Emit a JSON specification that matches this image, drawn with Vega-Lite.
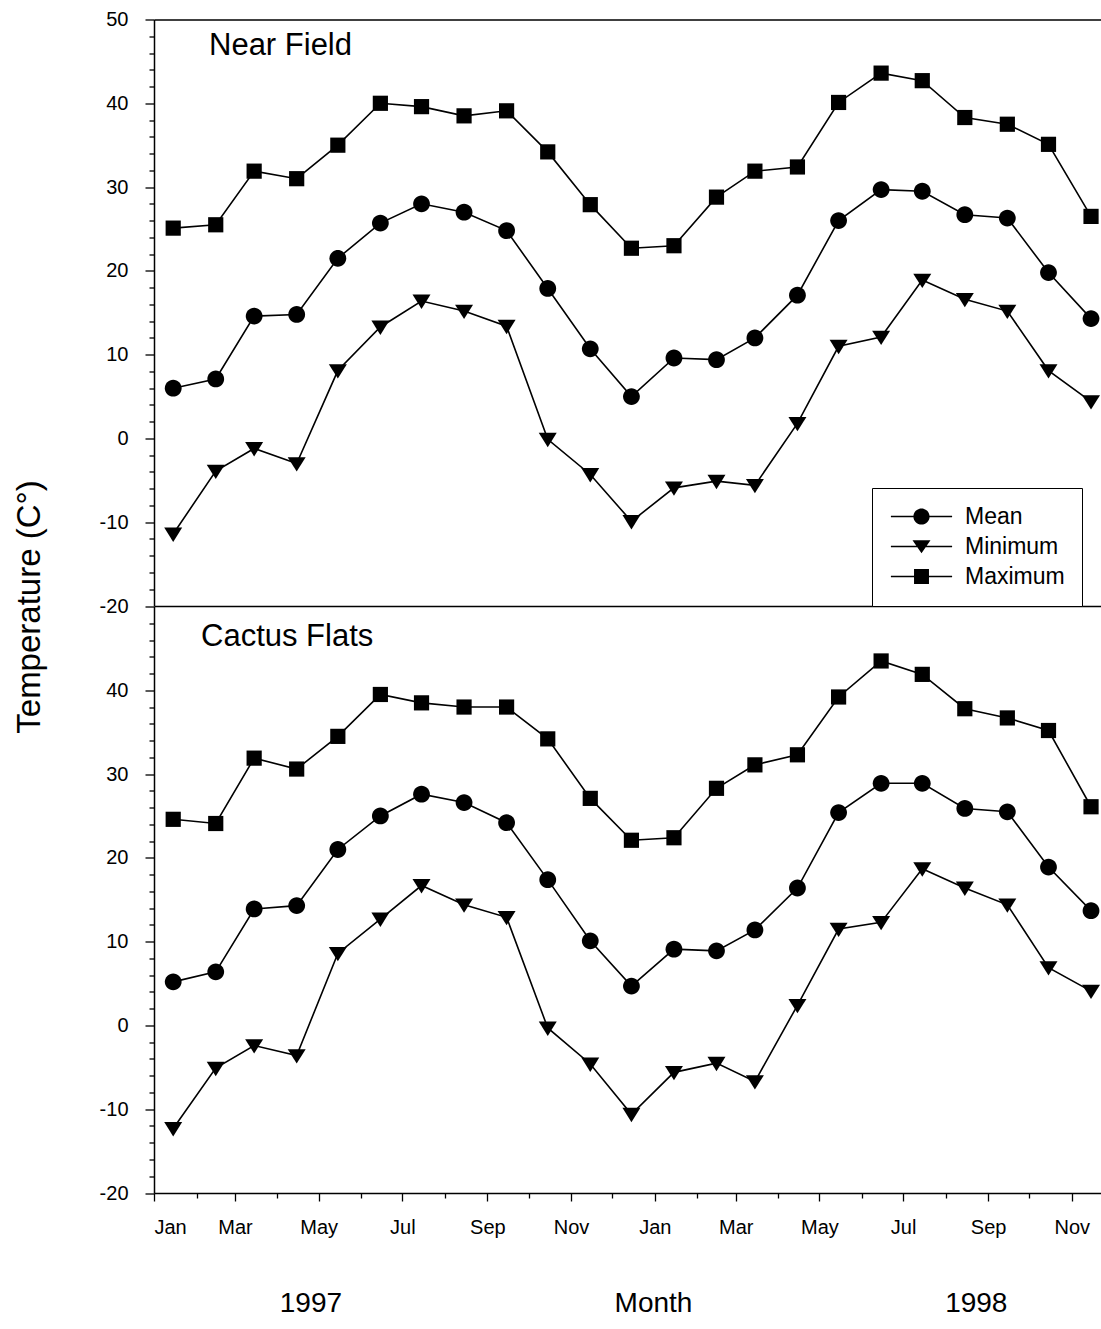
{
  "$schema": "https://vega.github.io/schema/vega-lite/v6.json",
  "background": "white",
  "padding": {"left": 13, "top": 9.5, "right": 0, "bottom": 0},
  "bounds": "flush",
  "spacing": 0,
  "config": {
    "view": {"stroke": null},
    "font": "Liberation Sans",
    "axis": {
      "grid": false,
      "domainColor": "black",
      "domainWidth": 1.5,
      "tickColor": "black",
      "tickWidth": 1.3,
      "labelColor": "black",
      "labelFont": "Liberation Sans",
      "labelFontSize": 20,
      "titleColor": "black",
      "titleFont": "Liberation Sans",
      "titleFontWeight": "normal"
    }
  },
  "resolve": {
    "scale": {"color": "independent", "shape": "independent"},
    "legend": {"color": "independent", "shape": "independent"}
  },
  "datasets": {
    "temps": [
      {"site": "Near Field", "series": "Maximum", "date": "1997-01-15", "temp": 25.1},
      {"site": "Near Field", "series": "Maximum", "date": "1997-02-15", "temp": 25.5},
      {"site": "Near Field", "series": "Maximum", "date": "1997-03-15", "temp": 31.9},
      {"site": "Near Field", "series": "Maximum", "date": "1997-04-15", "temp": 31.0},
      {"site": "Near Field", "series": "Maximum", "date": "1997-05-15", "temp": 35.0},
      {"site": "Near Field", "series": "Maximum", "date": "1997-06-15", "temp": 40.0},
      {"site": "Near Field", "series": "Maximum", "date": "1997-07-15", "temp": 39.6},
      {"site": "Near Field", "series": "Maximum", "date": "1997-08-15", "temp": 38.5},
      {"site": "Near Field", "series": "Maximum", "date": "1997-09-15", "temp": 39.1},
      {"site": "Near Field", "series": "Maximum", "date": "1997-10-15", "temp": 34.2},
      {"site": "Near Field", "series": "Maximum", "date": "1997-11-15", "temp": 27.9},
      {"site": "Near Field", "series": "Maximum", "date": "1997-12-15", "temp": 22.7},
      {"site": "Near Field", "series": "Maximum", "date": "1998-01-15", "temp": 23.0},
      {"site": "Near Field", "series": "Maximum", "date": "1998-02-15", "temp": 28.8},
      {"site": "Near Field", "series": "Maximum", "date": "1998-03-15", "temp": 31.9},
      {"site": "Near Field", "series": "Maximum", "date": "1998-04-15", "temp": 32.4},
      {"site": "Near Field", "series": "Maximum", "date": "1998-05-15", "temp": 40.1},
      {"site": "Near Field", "series": "Maximum", "date": "1998-06-15", "temp": 43.6},
      {"site": "Near Field", "series": "Maximum", "date": "1998-07-15", "temp": 42.7},
      {"site": "Near Field", "series": "Maximum", "date": "1998-08-15", "temp": 38.3},
      {"site": "Near Field", "series": "Maximum", "date": "1998-09-15", "temp": 37.5},
      {"site": "Near Field", "series": "Maximum", "date": "1998-10-15", "temp": 35.1},
      {"site": "Near Field", "series": "Maximum", "date": "1998-11-15", "temp": 26.5},
      {"site": "Near Field", "series": "Mean", "date": "1997-01-15", "temp": 6.0},
      {"site": "Near Field", "series": "Mean", "date": "1997-02-15", "temp": 7.1},
      {"site": "Near Field", "series": "Mean", "date": "1997-03-15", "temp": 14.6},
      {"site": "Near Field", "series": "Mean", "date": "1997-04-15", "temp": 14.8},
      {"site": "Near Field", "series": "Mean", "date": "1997-05-15", "temp": 21.5},
      {"site": "Near Field", "series": "Mean", "date": "1997-06-15", "temp": 25.7},
      {"site": "Near Field", "series": "Mean", "date": "1997-07-15", "temp": 28.0},
      {"site": "Near Field", "series": "Mean", "date": "1997-08-15", "temp": 27.0},
      {"site": "Near Field", "series": "Mean", "date": "1997-09-15", "temp": 24.8},
      {"site": "Near Field", "series": "Mean", "date": "1997-10-15", "temp": 17.9},
      {"site": "Near Field", "series": "Mean", "date": "1997-11-15", "temp": 10.7},
      {"site": "Near Field", "series": "Mean", "date": "1997-12-15", "temp": 5.0},
      {"site": "Near Field", "series": "Mean", "date": "1998-01-15", "temp": 9.6},
      {"site": "Near Field", "series": "Mean", "date": "1998-02-15", "temp": 9.4},
      {"site": "Near Field", "series": "Mean", "date": "1998-03-15", "temp": 12.0},
      {"site": "Near Field", "series": "Mean", "date": "1998-04-15", "temp": 17.1},
      {"site": "Near Field", "series": "Mean", "date": "1998-05-15", "temp": 26.0},
      {"site": "Near Field", "series": "Mean", "date": "1998-06-15", "temp": 29.7},
      {"site": "Near Field", "series": "Mean", "date": "1998-07-15", "temp": 29.5},
      {"site": "Near Field", "series": "Mean", "date": "1998-08-15", "temp": 26.7},
      {"site": "Near Field", "series": "Mean", "date": "1998-09-15", "temp": 26.3},
      {"site": "Near Field", "series": "Mean", "date": "1998-10-15", "temp": 19.8},
      {"site": "Near Field", "series": "Mean", "date": "1998-11-15", "temp": 14.3},
      {"site": "Near Field", "series": "Minimum", "date": "1997-01-15", "temp": -11.4},
      {"site": "Near Field", "series": "Minimum", "date": "1997-02-15", "temp": -3.9},
      {"site": "Near Field", "series": "Minimum", "date": "1997-03-15", "temp": -1.2},
      {"site": "Near Field", "series": "Minimum", "date": "1997-04-15", "temp": -3.0},
      {"site": "Near Field", "series": "Minimum", "date": "1997-05-15", "temp": 8.1},
      {"site": "Near Field", "series": "Minimum", "date": "1997-06-15", "temp": 13.3},
      {"site": "Near Field", "series": "Minimum", "date": "1997-07-15", "temp": 16.4},
      {"site": "Near Field", "series": "Minimum", "date": "1997-08-15", "temp": 15.2},
      {"site": "Near Field", "series": "Minimum", "date": "1997-09-15", "temp": 13.4},
      {"site": "Near Field", "series": "Minimum", "date": "1997-10-15", "temp": -0.1},
      {"site": "Near Field", "series": "Minimum", "date": "1997-11-15", "temp": -4.3},
      {"site": "Near Field", "series": "Minimum", "date": "1997-12-15", "temp": -9.9},
      {"site": "Near Field", "series": "Minimum", "date": "1998-01-15", "temp": -5.9},
      {"site": "Near Field", "series": "Minimum", "date": "1998-02-15", "temp": -5.1},
      {"site": "Near Field", "series": "Minimum", "date": "1998-03-15", "temp": -5.6},
      {"site": "Near Field", "series": "Minimum", "date": "1998-04-15", "temp": 1.8},
      {"site": "Near Field", "series": "Minimum", "date": "1998-05-15", "temp": 11.0},
      {"site": "Near Field", "series": "Minimum", "date": "1998-06-15", "temp": 12.1},
      {"site": "Near Field", "series": "Minimum", "date": "1998-07-15", "temp": 18.9},
      {"site": "Near Field", "series": "Minimum", "date": "1998-08-15", "temp": 16.6},
      {"site": "Near Field", "series": "Minimum", "date": "1998-09-15", "temp": 15.2},
      {"site": "Near Field", "series": "Minimum", "date": "1998-10-15", "temp": 8.1},
      {"site": "Near Field", "series": "Minimum", "date": "1998-11-15", "temp": 4.4},
      {"site": "Cactus Flats", "series": "Maximum", "date": "1997-01-15", "temp": 24.6},
      {"site": "Cactus Flats", "series": "Maximum", "date": "1997-02-15", "temp": 24.1},
      {"site": "Cactus Flats", "series": "Maximum", "date": "1997-03-15", "temp": 31.9},
      {"site": "Cactus Flats", "series": "Maximum", "date": "1997-04-15", "temp": 30.6},
      {"site": "Cactus Flats", "series": "Maximum", "date": "1997-05-15", "temp": 34.5},
      {"site": "Cactus Flats", "series": "Maximum", "date": "1997-06-15", "temp": 39.5},
      {"site": "Cactus Flats", "series": "Maximum", "date": "1997-07-15", "temp": 38.5},
      {"site": "Cactus Flats", "series": "Maximum", "date": "1997-08-15", "temp": 38.0},
      {"site": "Cactus Flats", "series": "Maximum", "date": "1997-09-15", "temp": 38.0},
      {"site": "Cactus Flats", "series": "Maximum", "date": "1997-10-15", "temp": 34.2},
      {"site": "Cactus Flats", "series": "Maximum", "date": "1997-11-15", "temp": 27.1},
      {"site": "Cactus Flats", "series": "Maximum", "date": "1997-12-15", "temp": 22.1},
      {"site": "Cactus Flats", "series": "Maximum", "date": "1998-01-15", "temp": 22.4},
      {"site": "Cactus Flats", "series": "Maximum", "date": "1998-02-15", "temp": 28.3},
      {"site": "Cactus Flats", "series": "Maximum", "date": "1998-03-15", "temp": 31.1},
      {"site": "Cactus Flats", "series": "Maximum", "date": "1998-04-15", "temp": 32.3},
      {"site": "Cactus Flats", "series": "Maximum", "date": "1998-05-15", "temp": 39.2},
      {"site": "Cactus Flats", "series": "Maximum", "date": "1998-06-15", "temp": 43.5},
      {"site": "Cactus Flats", "series": "Maximum", "date": "1998-07-15", "temp": 41.9},
      {"site": "Cactus Flats", "series": "Maximum", "date": "1998-08-15", "temp": 37.8},
      {"site": "Cactus Flats", "series": "Maximum", "date": "1998-09-15", "temp": 36.7},
      {"site": "Cactus Flats", "series": "Maximum", "date": "1998-10-15", "temp": 35.2},
      {"site": "Cactus Flats", "series": "Maximum", "date": "1998-11-15", "temp": 26.1},
      {"site": "Cactus Flats", "series": "Mean", "date": "1997-01-15", "temp": 5.2},
      {"site": "Cactus Flats", "series": "Mean", "date": "1997-02-15", "temp": 6.4},
      {"site": "Cactus Flats", "series": "Mean", "date": "1997-03-15", "temp": 13.9},
      {"site": "Cactus Flats", "series": "Mean", "date": "1997-04-15", "temp": 14.3},
      {"site": "Cactus Flats", "series": "Mean", "date": "1997-05-15", "temp": 21.0},
      {"site": "Cactus Flats", "series": "Mean", "date": "1997-06-15", "temp": 25.0},
      {"site": "Cactus Flats", "series": "Mean", "date": "1997-07-15", "temp": 27.6},
      {"site": "Cactus Flats", "series": "Mean", "date": "1997-08-15", "temp": 26.6},
      {"site": "Cactus Flats", "series": "Mean", "date": "1997-09-15", "temp": 24.2},
      {"site": "Cactus Flats", "series": "Mean", "date": "1997-10-15", "temp": 17.4},
      {"site": "Cactus Flats", "series": "Mean", "date": "1997-11-15", "temp": 10.1},
      {"site": "Cactus Flats", "series": "Mean", "date": "1997-12-15", "temp": 4.7},
      {"site": "Cactus Flats", "series": "Mean", "date": "1998-01-15", "temp": 9.1},
      {"site": "Cactus Flats", "series": "Mean", "date": "1998-02-15", "temp": 8.9},
      {"site": "Cactus Flats", "series": "Mean", "date": "1998-03-15", "temp": 11.4},
      {"site": "Cactus Flats", "series": "Mean", "date": "1998-04-15", "temp": 16.4},
      {"site": "Cactus Flats", "series": "Mean", "date": "1998-05-15", "temp": 25.4},
      {"site": "Cactus Flats", "series": "Mean", "date": "1998-06-15", "temp": 28.9},
      {"site": "Cactus Flats", "series": "Mean", "date": "1998-07-15", "temp": 28.9},
      {"site": "Cactus Flats", "series": "Mean", "date": "1998-08-15", "temp": 25.9},
      {"site": "Cactus Flats", "series": "Mean", "date": "1998-09-15", "temp": 25.5},
      {"site": "Cactus Flats", "series": "Mean", "date": "1998-10-15", "temp": 18.9},
      {"site": "Cactus Flats", "series": "Mean", "date": "1998-11-15", "temp": 13.7},
      {"site": "Cactus Flats", "series": "Minimum", "date": "1997-01-15", "temp": -12.3},
      {"site": "Cactus Flats", "series": "Minimum", "date": "1997-02-15", "temp": -5.1},
      {"site": "Cactus Flats", "series": "Minimum", "date": "1997-03-15", "temp": -2.4},
      {"site": "Cactus Flats", "series": "Minimum", "date": "1997-04-15", "temp": -3.6},
      {"site": "Cactus Flats", "series": "Minimum", "date": "1997-05-15", "temp": 8.6},
      {"site": "Cactus Flats", "series": "Minimum", "date": "1997-06-15", "temp": 12.7},
      {"site": "Cactus Flats", "series": "Minimum", "date": "1997-07-15", "temp": 16.7},
      {"site": "Cactus Flats", "series": "Minimum", "date": "1997-08-15", "temp": 14.4},
      {"site": "Cactus Flats", "series": "Minimum", "date": "1997-09-15", "temp": 12.9},
      {"site": "Cactus Flats", "series": "Minimum", "date": "1997-10-15", "temp": -0.3},
      {"site": "Cactus Flats", "series": "Minimum", "date": "1997-11-15", "temp": -4.6},
      {"site": "Cactus Flats", "series": "Minimum", "date": "1997-12-15", "temp": -10.6},
      {"site": "Cactus Flats", "series": "Minimum", "date": "1998-01-15", "temp": -5.6},
      {"site": "Cactus Flats", "series": "Minimum", "date": "1998-02-15", "temp": -4.5},
      {"site": "Cactus Flats", "series": "Minimum", "date": "1998-03-15", "temp": -6.7},
      {"site": "Cactus Flats", "series": "Minimum", "date": "1998-04-15", "temp": 2.4},
      {"site": "Cactus Flats", "series": "Minimum", "date": "1998-05-15", "temp": 11.5},
      {"site": "Cactus Flats", "series": "Minimum", "date": "1998-06-15", "temp": 12.3},
      {"site": "Cactus Flats", "series": "Minimum", "date": "1998-07-15", "temp": 18.7},
      {"site": "Cactus Flats", "series": "Minimum", "date": "1998-08-15", "temp": 16.4},
      {"site": "Cactus Flats", "series": "Minimum", "date": "1998-09-15", "temp": 14.4},
      {"site": "Cactus Flats", "series": "Minimum", "date": "1998-10-15", "temp": 6.9},
      {"site": "Cactus Flats", "series": "Minimum", "date": "1998-11-15", "temp": 4.1}
    ]
  },
  "vconcat": [
    {
      "width": 948,
      "height": 586.5,
      "title": {"text": "Near Field", "orient": "top", "anchor": "start", "frame": "group", "offset": -35.5, "dy": 40.5, "baseline": "alphabetic", "dx": 55, "fontSize": 31, "fontWeight": "normal", "font": "Liberation Sans", "color": "black"},
      "data": {"name": "temps"},
      "transform": [{"filter": "datum.site === 'Near Field'"}],
      "layer": [
        {
          "mark": {"type": "line", "color": "black", "strokeWidth": 1.6},
          "encoding": {
            "x": {"field": "date", "type": "temporal",
              "scale": {"type": "utc", "domain": [{"year": 1997, "month": 1, "date": 1, "utc": true}, {"year": 1998, "month": 11, "date": 23, "utc": true}]},
              "axis": {"orient": "bottom", "labels": false, "ticks": false, "title": null, "domain": true}},
            "y": {"field": "temp", "type": "quantitative",
              "scale": {"domain": [-20, 50], "nice": false, "zero": false},
              "axis": {"orient": "left", "values": [-20, -10, 0, 10, 20, 30, 40, 50], "tickSize": 9, "labelPadding": 17,
                "labelExpr": "datum.value < 0 ? '-' + abs(datum.value) : '' + datum.value",
                "title": "Temperature (C°)", "titleX": -125, "titleY": 587, "titleAngle": -90, "titleAlign": "center", "titleBaseline": "middle", "titleFontSize": 33}},
            "detail": {"field": "series"}
          }
        },
        {
          "mark": {"type": "point", "filled": true, "opacity": 1, "strokeWidth": 0, "size": 256},
          "encoding": {
            "x": {"field": "date", "type": "temporal",
              "axis": {"orient": "top", "labels": false, "ticks": false, "title": null, "domain": true}},
            "y": {"field": "temp", "type": "quantitative",
              "axis": {"orient": "left", "values": [-18, -16, -14, -12, -8, -6, -4, -2, 2, 4, 6, 8, 12, 14, 16, 18, 22, 24, 26, 28, 32, 34, 36, 38, 42, 44, 46, 48], "tickSize": 5, "labels": false, "domain": false, "title": null}},
            "color": {"field": "series", "type": "nominal",
              "scale": {"domain": ["Mean", "Minimum", "Maximum"], "range": ["black", "black", "black"]},
              "legend": {
                "orient": "none", "legendX": 718, "legendY": 468.5, "title": null,
                "padding": 17, "strokeColor": "black", "fillColor": "white",
                "labelFontSize": 23, "labelFont": "Liberation Sans", "labelColor": "black", "labelBaseline": "middle",
                "symbolSize": 324, "symbolOffset": 21, "labelOffset": 32, "rowPadding": 6,
                "symbolStrokeWidth": 0,
                "symbolType": {"expr": "datum.value === 'Mean' ? 'M-3.4,-0.09H3.4V0.09H-3.4Z M0.9,0A0.9,0.9,0,1,1,-0.9,0A0.9,0.9,0,1,1,0.9,0Z' : datum.value === 'Minimum' ? 'M-3.4,-0.09H3.4V0.09H-3.4Z M-1,-0.7H1L0,0.75Z' : 'M-3.4,-0.09H3.4V0.09H-3.4Z M-0.83,-0.83H0.83V0.83H-0.83Z'"}
              }},
            "shape": {"field": "series", "type": "nominal",
              "scale": {"domain": ["Maximum", "Mean", "Minimum"], "range": ["M-0.95,-0.95H0.95V0.95H-0.95Z", "M1.05,0A1.05,1.05,0,1,1,-1.05,0A1.05,1.05,0,1,1,1.05,0Z", "M-1.125,-0.8H1.125L0,1Z"]},
              "legend": null}
          }
        }
      ],
      "resolve": {"axis": {"x": "independent", "y": "independent"}}
    },
    {
      "width": 948,
      "height": 586.5,
      "title": {"text": "Cactus Flats", "orient": "top", "anchor": "start", "frame": "group", "offset": -39.7, "dy": 30.7, "baseline": "alphabetic", "dx": 47, "fontSize": 31, "fontWeight": "normal", "font": "Liberation Sans", "color": "black"},
      "data": {"name": "temps"},
      "transform": [{"filter": "datum.site === 'Cactus Flats'"}],
      "layer": [
        {
          "mark": {"type": "line", "color": "black", "strokeWidth": 1.6},
          "encoding": {
            "x": {"field": "date", "type": "temporal",
              "scale": {"type": "utc", "domain": [{"year": 1997, "month": 1, "date": 1, "utc": true}, {"year": 1998, "month": 11, "date": 23, "utc": true}]},
              "axis": {"orient": "bottom", "title": null, "domain": true, "tickSize": 8, "labelPadding": 16,
                "values": [
                  {"year": 1997, "month": 1, "date": 1, "utc": true}, {"year": 1997, "month": 3, "date": 1, "utc": true},
                  {"year": 1997, "month": 5, "date": 1, "utc": true}, {"year": 1997, "month": 7, "date": 1, "utc": true},
                  {"year": 1997, "month": 9, "date": 1, "utc": true}, {"year": 1997, "month": 11, "date": 1, "utc": true},
                  {"year": 1998, "month": 1, "date": 1, "utc": true}, {"year": 1998, "month": 3, "date": 1, "utc": true},
                  {"year": 1998, "month": 5, "date": 1, "utc": true}, {"year": 1998, "month": 7, "date": 1, "utc": true},
                  {"year": 1998, "month": 9, "date": 1, "utc": true}, {"year": 1998, "month": 11, "date": 1, "utc": true}
                ],
                "labelExpr": "utcFormat(datum.value, '%b')"}},
            "y": {"field": "temp", "type": "quantitative",
              "scale": {"domain": [-20, 50], "nice": false, "zero": false},
              "axis": {"orient": "left", "values": [-20, -10, 0, 10, 20, 30, 40], "tickSize": 9, "labelPadding": 17, "title": null,
                "labelExpr": "datum.value < 0 ? '-' + abs(datum.value) : '' + datum.value"}},
            "detail": {"field": "series"}
          }
        },
        {
          "mark": {"type": "point", "filled": true, "color": "black", "opacity": 1, "strokeWidth": 0, "size": 256},
          "encoding": {
            "x": {"field": "date", "type": "temporal",
              "axis": {"orient": "bottom", "labels": false, "domain": false, "title": null, "tickSize": 5,
                "values": [
                  {"year": 1997, "month": 2, "date": 1, "utc": true}, {"year": 1997, "month": 4, "date": 1, "utc": true},
                  {"year": 1997, "month": 6, "date": 1, "utc": true}, {"year": 1997, "month": 8, "date": 1, "utc": true},
                  {"year": 1997, "month": 10, "date": 1, "utc": true}, {"year": 1997, "month": 12, "date": 1, "utc": true},
                  {"year": 1998, "month": 2, "date": 1, "utc": true}, {"year": 1998, "month": 4, "date": 1, "utc": true},
                  {"year": 1998, "month": 6, "date": 1, "utc": true}, {"year": 1998, "month": 8, "date": 1, "utc": true},
                  {"year": 1998, "month": 10, "date": 1, "utc": true}
                ]}},
            "y": {"field": "temp", "type": "quantitative",
              "axis": {"orient": "left", "values": [-18, -16, -14, -12, -8, -6, -4, -2, 2, 4, 6, 8, 12, 14, 16, 18, 22, 24, 26, 28, 32, 34, 36, 38, 42, 44, 46, 48], "tickSize": 5, "labels": false, "domain": false, "title": null}},
            "shape": {"field": "series", "type": "nominal",
              "scale": {"domain": ["Maximum", "Mean", "Minimum"], "range": ["M-0.95,-0.95H0.95V0.95H-0.95Z", "M1.05,0A1.05,1.05,0,1,1,-1.05,0A1.05,1.05,0,1,1,1.05,0Z", "M-1.125,-0.8H1.125L0,1Z"]},
              "legend": null}
          }
        },
        {
          "mark": {"type": "point", "opacity": 0},
          "encoding": {
            "x": {"field": "date", "type": "temporal",
              "axis": {"orient": "bottom", "domain": false, "ticks": false, "tickSize": 0,
                "values": [{"year": 1997, "month": 4, "date": 25, "utc": true}, {"year": 1998, "month": 8, "date": 23, "utc": true}],
                "labelExpr": "utcFormat(datum.value, '%Y')",
                "labelFont": "Liberation Sans Narrow, Liberation Sans", "labelFontSize": 28, "labelPadding": 110, "labelBaseline": "middle",
                "title": "Month", "titleFont": "Liberation Sans Narrow, Liberation Sans", "titleFontSize": 28, "titleX": 499, "titleY": 110, "titleBaseline": "middle", "titleAlign": "center", "titleAngle": 0}}
          }
        }
      ],
      "resolve": {"axis": {"x": "independent", "y": "independent"}}
    }
  ]
}
